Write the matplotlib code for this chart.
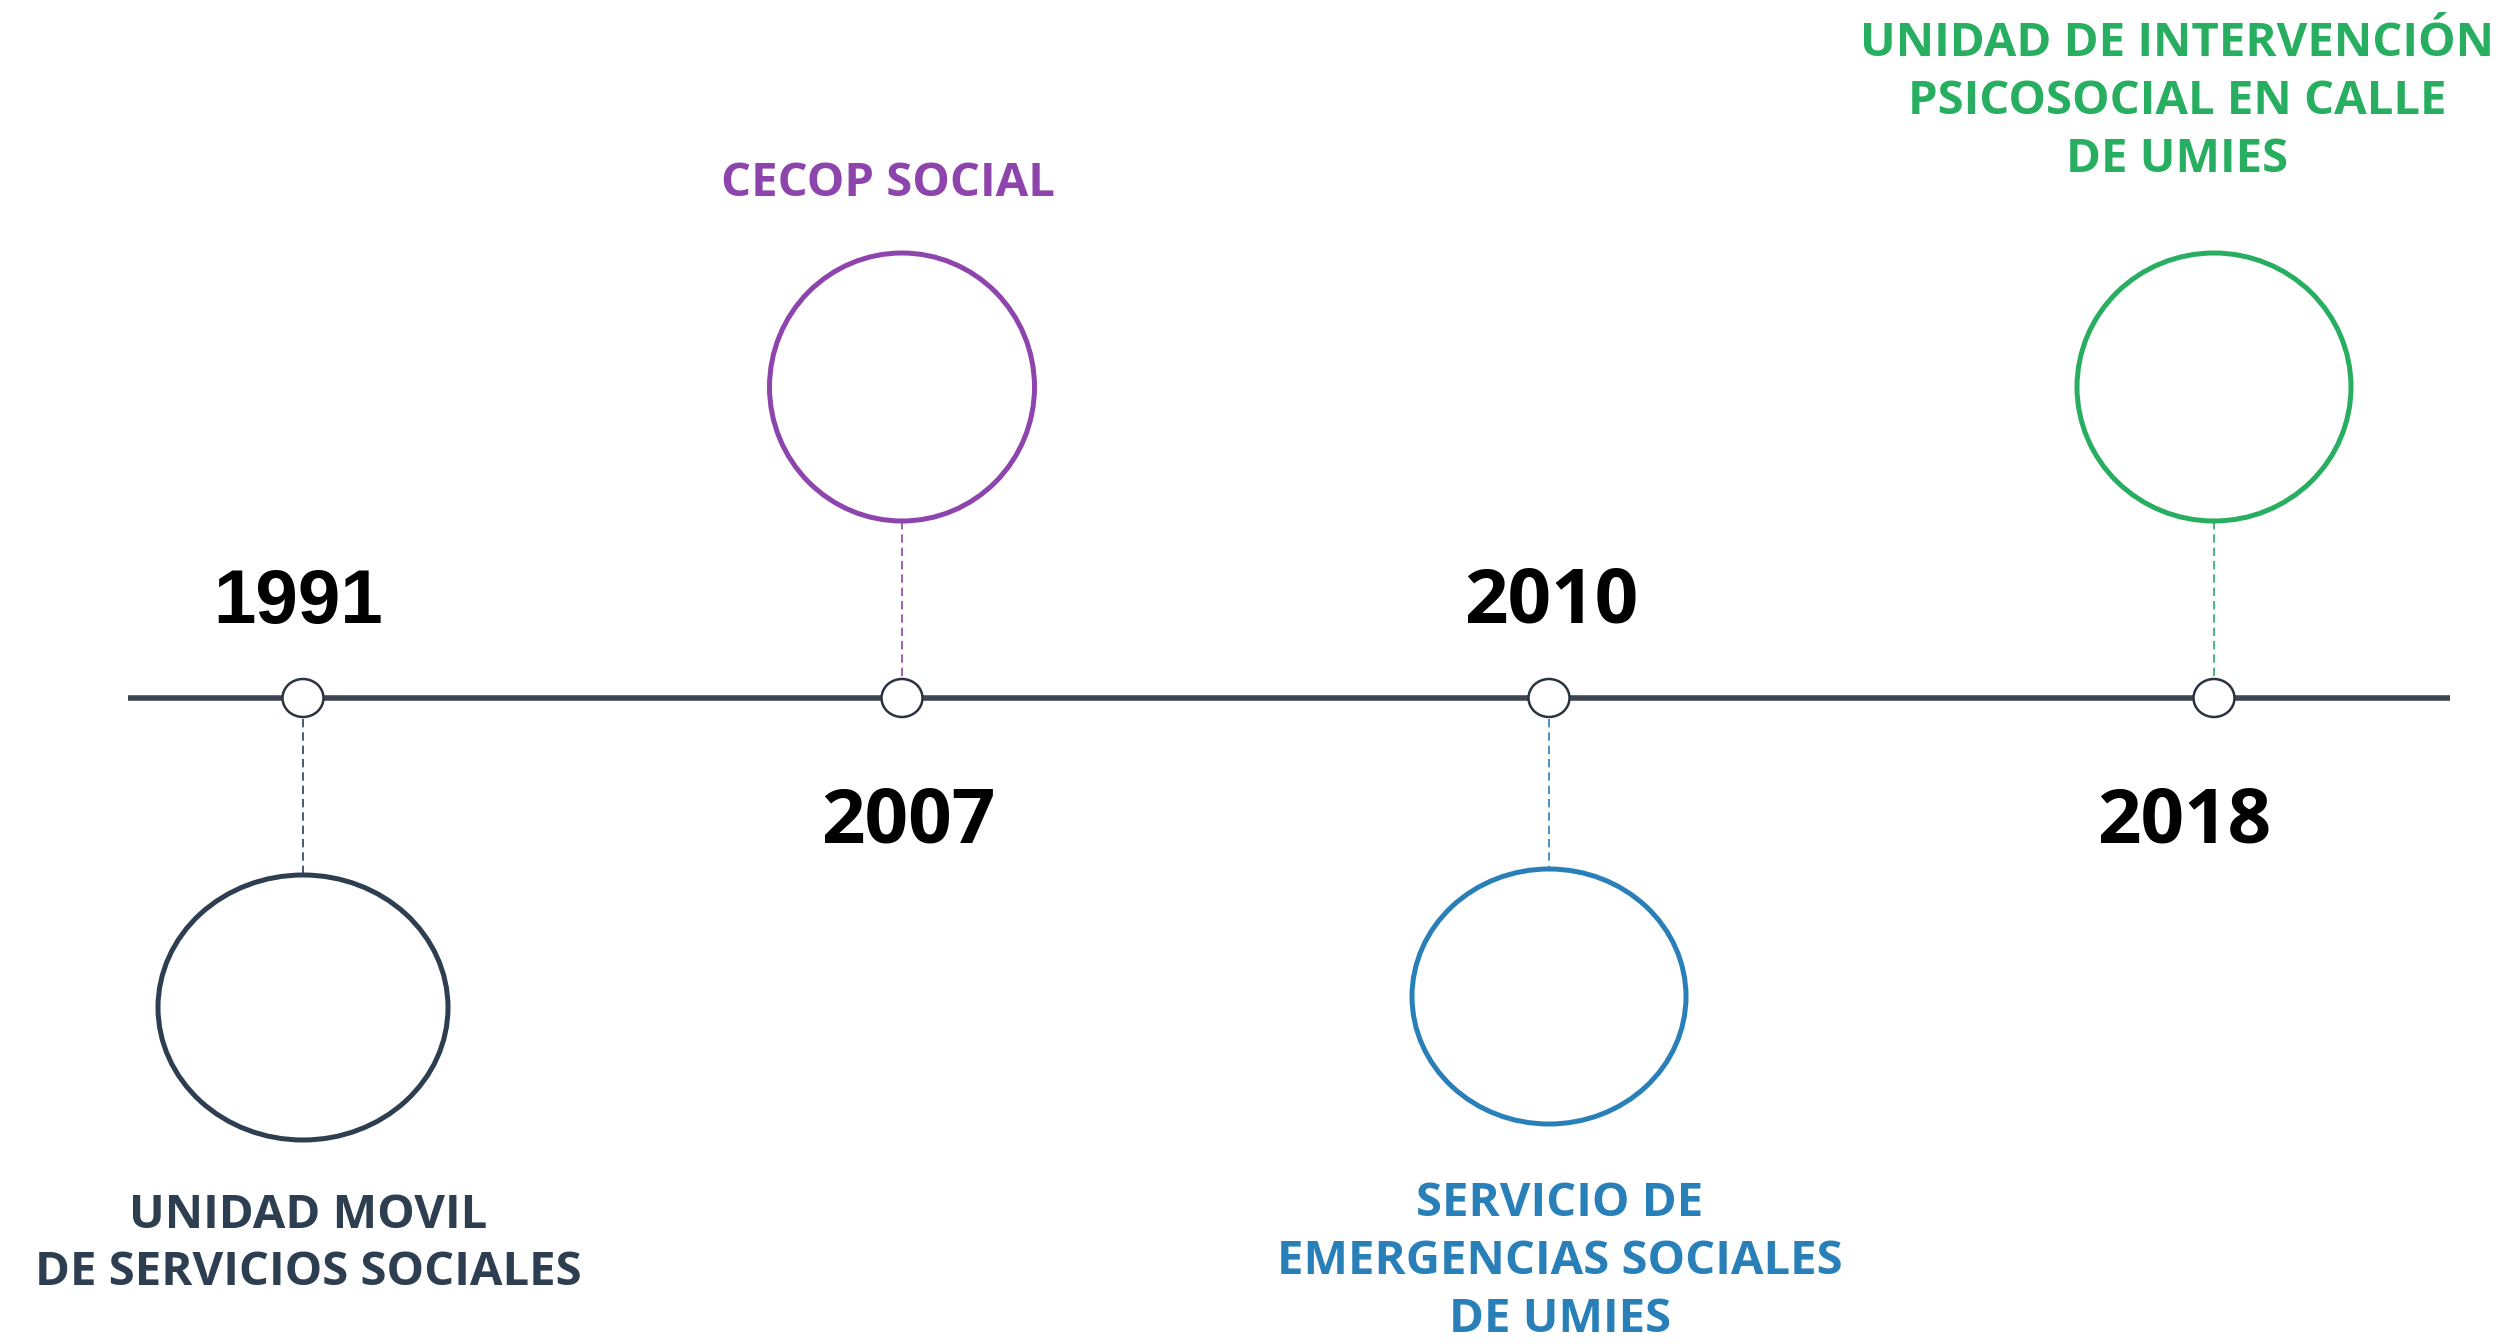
import matplotlib
matplotlib.use('Agg')
import matplotlib.pyplot as plt
from matplotlib.patches import Ellipse

# Timeline data
years = ['1991', '2007', '2010', '2018']
labels = ['UNIDAD MOVIL\nDE SERVICIOS SOCIALES',
          'CECOP SOCIAL',
          'SERVICIO DE\nEMERGENCIAS SOCIALES\nDE UMIES',
          'UNIDAD DE INTERVENCIÓN\nPSICOSOCIAL EN CALLE\nDE UMIES']
sides = ['below', 'above', 'below', 'above']
colors = ['#2c3e50', '#8e44ad', '#2980b9', '#27ae60']

# Layout (pixel space of the 2499x1344 canvas)
W, H = 2499, 1344
event_x = [303, 902, 1549, 2214]
line_y = 698
circle_size = [(290, 265), (265, 268), (274, 255), (274, 268)]
text_top = [1215, 184, 1204, 44]

fig = plt.figure(figsize=(W / 100, H / 100), dpi=100)
ax = fig.add_axes([0, 0, 1, 1])
ax.set_xlim(0, W)
ax.set_ylim(H, 0)
ax.axis('off')

# main line
ax.plot([128, 2450], [line_y, line_y], color='#3d4452', lw=4, solid_capstyle='butt', zorder=1)

for i, (yr, lab, side, c) in enumerate(zip(years, labels, sides, colors)):
    x = event_x[i]
    w, h = circle_size[i]
    # small marker on the line
    ax.add_patch(Ellipse((x, line_y), 41, 38, facecolor='white', edgecolor='#2b3340', lw=1.8, zorder=3))
    if side == 'below':
        top = 719
        cy = top + 156 + h / 2 if i == 0 else top + 150 + h / 2
        ax.plot([x, x], [top, cy - h / 2], color=c, lw=1.2, ls=(0, (5, 3)), zorder=2)
        ax.add_patch(Ellipse((x, cy), w, h, facecolor='none', edgecolor=c, lw=3.6, zorder=2))
        yr_y = 603
    else:
        cy = 387
        ax.plot([x, x], [cy + h / 2, 677], color=c, lw=1.2, ls=(0, (5, 3)), zorder=2)
        ax.add_patch(Ellipse((x, cy), w, h, facecolor='none', edgecolor=c, lw=3.6, zorder=2))
        yr_y = 823

    # year label
    yr_dx = [-5, 6, 2, -30][i]
    fam = 'Liberation Sans' if i == 0 else 'Open Sans'
    ax.text(x + yr_dx, yr_y, yr, fontsize=55, fontweight='bold', family=fam,
            color='black', ha='center', va='center')

    # description
    txt_dx = [5, -14, 11, -37][i]
    for k, line in enumerate(lab.split('\n')):
        ax.text(x + txt_dx, text_top[i] + k * 57.5, line, fontsize=34, fontweight='bold',
                family='Open Sans', color=c, ha='center', va='center')

fig.savefig('out.png', dpi=100, facecolor='white')
